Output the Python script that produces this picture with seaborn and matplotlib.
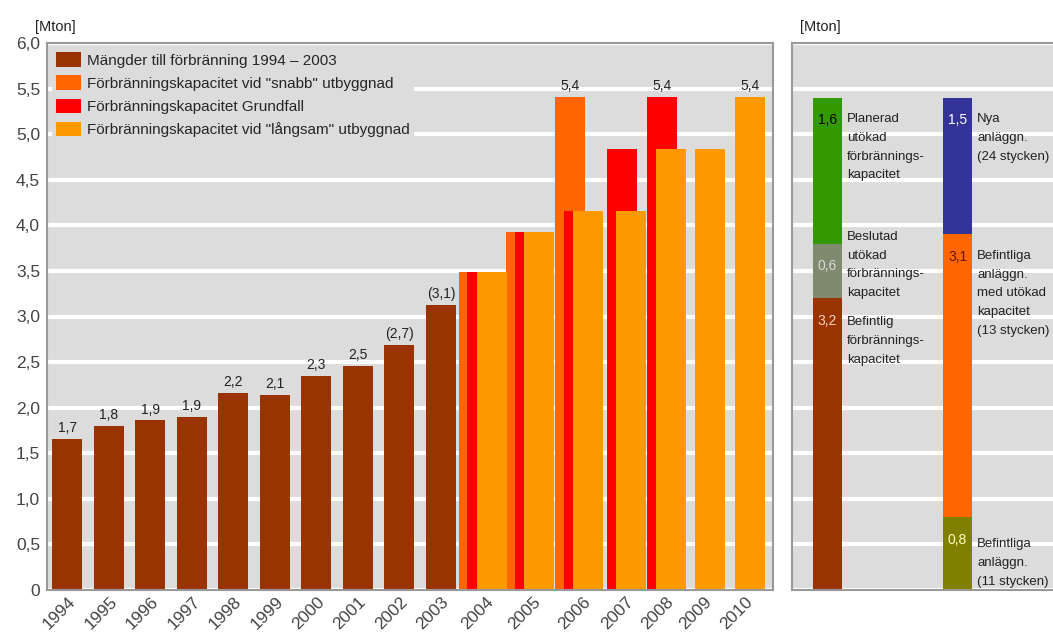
import numpy as np
import matplotlib
matplotlib.use('Agg')
import matplotlib.pyplot as plt
import matplotlib.transforms as mtrans
from matplotlib.patches import Patch
from matplotlib.ticker import FuncFormatter
import seaborn as sns

# historic amounts to incineration 1994-2003
hist_years = ['1994', '1995', '1996', '1997', '1998', '1999', '2000', '2001', '2002', '2003']
hist_values = [1.66, 1.80, 1.86, 1.90, 2.16, 2.14, 2.35, 2.46, 2.69, 3.13]
hist_labels = ['1,7', '1,8', '1,9', '1,9', '2,2', '2,1', '2,3', '2,5', '(2,7)', '(3,1)']

# capacity scenarios 2004-2010
fut_years = ['2004', '2005', '2006', '2007', '2008', '2009', '2010']
snabb = [3.49, 3.93, 5.41, np.nan, np.nan, np.nan, np.nan]
grundfall = [3.49, 3.93, 4.16, 4.84, 5.41, np.nan, np.nan]
langsam = [3.49, 3.93, 4.16, 4.16, 4.84, 4.84, 5.41]
max_label = '5,4'

legend_names = ['Mängder till förbränning 1994 – 2003',
                'Förbränningskapacitet vid "snabb" utbyggnad',
                'Förbränningskapacitet Grundfall',
                'Förbränningskapacitet vid "långsam" utbyggnad']
c_hist, c_snabb, c_grund, c_lang = '#993300', '#ff6600', '#ff0000', '#ff9900'

# right panel: capacity split, stacked bottom -> top
cap1_values = [3.2, 0.6, 1.6]
cap1_labels = ['3,2', '0,6', '1,6']
cap1_desc = ['Befintlig\nförbrännings-\nkapacitet',
             'Beslutad\nutökad\nförbrännings-\nkapacitet',
             'Planerad\nutökad\nförbrännings-\nkapacitet']
cap1_colors = ['#993300', '#7f8a6f', '#339900']
cap1_txt = ['#ffd0c0', '#d8d8d8', '#000000']

cap2_values = [0.8, 3.1, 1.5]
cap2_labels = ['0,8', '3,1', '1,5']
cap2_desc = ['Befintliga\nanläggn.\n(11 stycken)',
             'Befintliga\nanläggn.\nmed utökad\nkapacitet\n(13 stycken)',
             'Nya\nanläggn.\n(24 stycken)']
cap2_colors = ['#808000', '#ff6600', '#333399']
cap2_txt = ['#ffffc0', '#661100', '#ffffff']

sns.set_style('darkgrid', {'axes.facecolor': '#dcdcdc', 'grid.color': 'white',
                           'axes.edgecolor': '#999999'})
plt.rcParams['font.family'] = ['Liberation Sans', 'DejaVu Sans']

fig = plt.figure(figsize=(10.53, 6.41), dpi=100)
ax = fig.add_axes([47/1053, 51/641, 726/1053, 547/641])
ax2 = fig.add_axes([792/1053, 51/641, 268/1053, 547/641])

W = 0.72
hist_x = np.arange(len(hist_years))
fut_x = np.array([10.0, 11.14, 12.33, 13.36, 14.33, 15.26, 16.23])

sns.barplot(x=hist_x, y=hist_values, native_scale=True, color=c_hist,
            saturation=1, width=W, linewidth=0, ax=ax)
for x, v, t in zip(hist_x, hist_values, hist_labels):
    ax.text(x, v + 0.04, t, ha='center', va='bottom', fontsize=10, color='#222222')

for vals, off, col in [(snabb, -0.21, c_snabb), (grundfall, 0.0, c_grund), (langsam, 0.22, c_lang)]:
    ax.bar(fut_x + off, vals, width=W, color=col, linewidth=0, zorder=2)
    i = int(np.nanargmax(vals))
    ax.text(fut_x[i] + off, vals[i] + 0.04, max_label, ha='center', va='bottom',
            fontsize=10, color='#222222', zorder=3)

ax.set_xlim(-0.49, 17.0)
ax.set_ylim(0, 6)
ax.set_yticks(np.arange(0, 6.01, 0.5))
ax.yaxis.set_major_formatter(FuncFormatter(
    lambda v, p: '0' if v == 0 else f'{v:.1f}'.replace('.', ',')))
ax.set_xticks(list(hist_x) + list(fut_x + 0.08))
ax.set_xticklabels(hist_years + fut_years, rotation=45, ha='center', va='top')
ax.tick_params(axis='both', length=0, labelsize=12.5, labelcolor='#444444')
ax.tick_params(axis='x', pad=3)
ax.tick_params(axis='y', pad=5)
shift = mtrans.ScaledTranslation(-8/100, 0, fig.dpi_scale_trans)
for lab in ax.get_xticklabels():
    lab.set_transform(lab.get_transform() + shift)
ax.xaxis.grid(False)
ax.yaxis.grid(True, color='white', linewidth=3)
ax.set_axisbelow(True)
ax.set_xlabel('')
for s in ax.spines.values():
    s.set_color('#999999')
    s.set_linewidth(1.5)

handles = [Patch(facecolor=c, edgecolor='none') for c in [c_hist, c_snabb, c_grund, c_lang]]
leg = ax.legend(handles, legend_names, loc='upper left', bbox_to_anchor=(0.0, 1.0),
                fontsize=11, frameon=True, facecolor='#dcdcdc', framealpha=1,
                edgecolor='none', fancybox=False, handlelength=1.6, handleheight=1.1,
                handletextpad=0.4, labelspacing=0.5, borderaxespad=0.3, borderpad=0.3)

# right panel
bw = 0.223
for xpos, vals, labs, desc, cols, tcols, dys in [
        (0, cap1_values, cap1_labels, cap1_desc, cap1_colors, cap1_txt, [-0.2, 0.14, -0.17]),
        (1, cap2_values, cap2_labels, cap2_desc, cap2_colors, cap2_txt, [-0.23, -0.17, -0.17])]:
    bottom = 0.0
    for v, lab, d, c, tc, dy in zip(vals, labs, desc, cols, tcols, dys):
        ax2.bar(xpos, v, bottom=bottom, width=bw, color=c, linewidth=0, zorder=2)
        top = bottom + v
        ax2.text(xpos, top - 0.25, lab, ha='center', va='center', fontsize=10,
                 color=tc, zorder=3)
        ax2.text(xpos + bw / 2 + 0.04, top + dy, d, ha='left', va='top', fontsize=9.5,
                 color='#222222', linespacing=1.75, zorder=3)
        bottom = top

ax2.set_xlim(-0.273, 1.788)
ax2.set_ylim(0, 6)
ax2.set_yticks(np.arange(0, 6.01, 0.5))
ax2.set_yticklabels([])
ax2.set_xticks([])
ax2.tick_params(length=0)
ax2.xaxis.grid(False)
ax2.yaxis.grid(True, color='white', linewidth=3)
ax2.set_axisbelow(True)
for s in ax2.spines.values():
    s.set_color('#999999')
    s.set_linewidth(1.5)

fig.text(35/1053, 1 - 31/641, '[Mton]', fontsize=10.5, color='#222222', va='baseline')
fig.text(800/1053, 1 - 31/641, '[Mton]', fontsize=10.5, color='#222222', va='baseline')

fig.savefig('out.png', dpi=100)
